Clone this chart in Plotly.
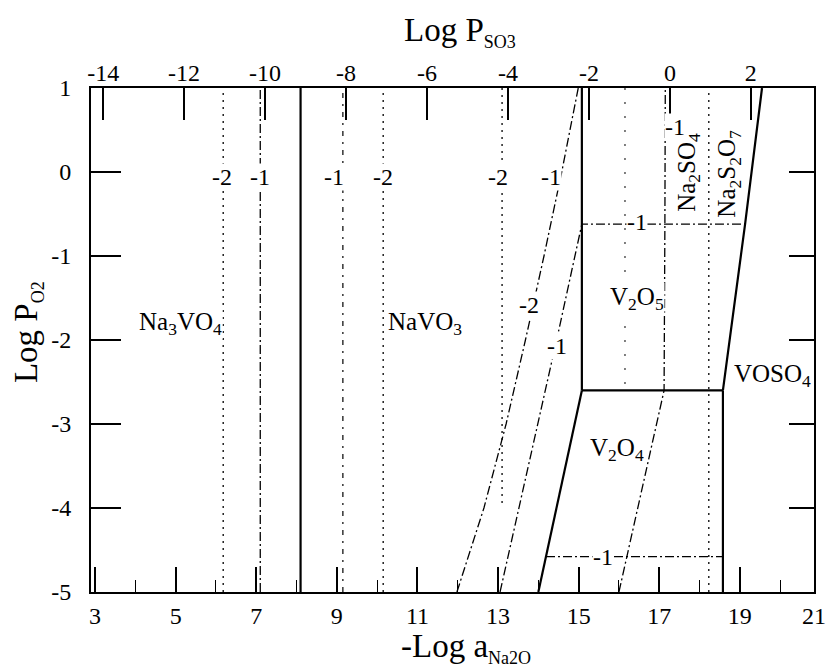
import plotly.graph_objects as go

# ---------------- data (x = -Log a_Na2O, y = Log P_O2) ----------------
bottom_tick_vals = [3, 5, 7, 9, 11, 13, 15, 17, 19, 20.84]
bottom_tick_text = ["3", "5", "7", "9", "11", "13", "15", "17", "19", "21"]
bottom_minor_vals = [4, 6, 8, 10, 12, 14, 16, 18, 20]
left_tick_vals = [-5, -4, -3, -2, -1, 0, 1]
left_tick_text = ["-5", "-4", "-3", "-2", "-1", "0", "1"]
top_tick_vals = [-14, -12, -10, -8, -6, -4, -2, 0, 2]
top_tick_text = ["-14", "-12", "-10", "-8", "-6", "-4", "-2", "0", "2"]

# solid phase boundaries
na3vo4_navo3_x = [8.1, 8.1];        na3vo4_navo3_y = [-5, 1]
navo3_v2o4_x = [14.0, 15.08];       navo3_v2o4_y = [-5, -2.6]
navo3_v2o5_x = [15.08, 15.08];      navo3_v2o5_y = [-2.6, 1]
v2o5_v2o4_x = [15.08, 18.58];       v2o5_v2o4_y = [-2.6, -2.6]
v2o4_voso4_x = [18.58, 18.58];      v2o4_voso4_y = [-2.6, -5]
v2o5_voso4_x = [18.58, 19.13, 19.55]; v2o5_voso4_y = [-2.6, -0.62, 1]

# activity contours (dash-dot / dotted)
na3vo4_m2_x = [6.18, 6.18];   na3vo4_m2_y = [-5, 1]
na3vo4_m1_x = [7.1, 7.1];     na3vo4_m1_y = [-5, 1]
navo3_m1_x = [9.15, 9.15];    navo3_m1_y = [-5, 1]
navo3_m2_x = [10.15, 10.15];  navo3_m2_y = [-5, 1]
v_m2_vert_x = [13.1, 13.1];   v_m2_vert_y = [1, -4.0]
alpha_x = [11.98, 12.65, 13.2, 13.68, 14.14, 14.58, 14.99]
alpha_y = [-5, -4, -3, -2, -1, 0, 1]
beta_x = [13.05, 13.95, 14.5, 15.08, 19.13]
beta_y = [-5, -3.1, -1.9, -0.62, -0.62]
gamma_x = [16.0, 17.12, 17.14, 17.15]
gamma_y = [-5, -2.6, -0.62, 1]
low_h_x = [14.19, 18.58];     low_h_y = [-4.58, -4.58]
so4_s2o7_x = [18.23, 18.23];  so4_s2o7_y = [-5, 1]
faint_x = [16.15, 16.15];     faint_y = [1, -2.6]

# labels
contour_labels = ["-2", "-1", "-1", "-2", "-2", "-1", "-2", "-1", "-1", "-1", "-1"]
contour_label_x = [6.15, 7.09, 8.93, 10.15, 13.0, 14.31, 13.77, 14.46, 16.45, 15.6, 17.4]
contour_label_y = [-0.06, -0.06, -0.06, -0.06, -0.06, -0.06, -1.58, -2.07, -0.6, -4.58, 0.53]

phase_labels = ["Na<sub>3</sub>VO<sub>4</sub>", "NaVO<sub>3</sub>", "V<sub>2</sub>O<sub>5</sub>",
                "V<sub>2</sub>O<sub>4</sub>", "VOSO<sub>4</sub>"]
phase_label_x = [5.11, 11.19, 16.45, 15.95, 19.8]
phase_label_y = [-1.8, -1.8, -1.5, -3.3, -2.42]

rot_labels = ["Na<sub>2</sub>SO<sub>4</sub>", "Na<sub>2</sub>S<sub>2</sub>O<sub>7</sub>"]
rot_label_x = [17.71, 18.73]
rot_label_y = [0.0, -0.02]

FONT = "Liberation Serif"
SOLID_W = 2.2
DASHDOT = "9px,3px,2px,3px"
DOT = "2px,5px"
SPARSE = "5px,6px,2px,6px"

fig = go.Figure()


def add_line(x, y, dash="solid", width=SOLID_W):
    fig.add_trace(go.Scatter(x=x, y=y, mode="lines",
                             line=dict(color="black", width=width, dash=dash),
                             showlegend=False, hoverinfo="skip"))


# contours first (under labels)
add_line(na3vo4_m2_x, na3vo4_m2_y, DOT, 1.3)
add_line(na3vo4_m1_x, na3vo4_m1_y, DASHDOT, 1.3)
add_line(navo3_m1_x, navo3_m1_y, SPARSE, 1.2)
add_line(navo3_m2_x, navo3_m2_y, DOT, 1.3)
add_line(v_m2_vert_x, v_m2_vert_y, DOT, 1.3)
add_line(alpha_x, alpha_y, DASHDOT, 1.3)
add_line(beta_x, beta_y, DASHDOT, 1.3)
add_line(gamma_x, gamma_y, DASHDOT, 1.3)
add_line(low_h_x, low_h_y, DASHDOT, 1.3)
add_line(so4_s2o7_x, so4_s2o7_y, DOT, 1.3)
add_line(faint_x, faint_y, "2px,12px", 1.0)

# solid boundaries
add_line(na3vo4_navo3_x, na3vo4_navo3_y)
add_line(navo3_v2o4_x, navo3_v2o4_y)
add_line(navo3_v2o5_x, navo3_v2o5_y)
add_line(v2o5_v2o4_x, v2o5_v2o4_y)
add_line(v2o4_voso4_x, v2o4_voso4_y)
add_line(v2o5_voso4_x, v2o5_voso4_y)

# invisible trace on secondary axes (top / right)
fig.add_trace(go.Scatter(x=[top_tick_vals[0]], y=[0], xaxis="x2", yaxis="y2",
                         mode="markers", marker=dict(opacity=0),
                         showlegend=False, hoverinfo="skip"))

annotations = []
for t, x, y in zip(phase_labels, phase_label_x, phase_label_y):
    annotations.append(dict(x=x, y=y, xref="x", yref="y", text=t, showarrow=False,
                            font=dict(family=FONT, size=25, color="black"),
                            bgcolor="white", borderpad=0))
for t, x, y in zip(contour_labels, contour_label_x, contour_label_y):
    annotations.append(dict(x=x, y=y, xref="x", yref="y", text=t, showarrow=False,
                            font=dict(family=FONT, size=24, color="black"),
                            bgcolor="white", borderpad=0))
for t, x, y in zip(rot_labels, rot_label_x, rot_label_y):
    annotations.append(dict(x=x, y=y, xref="x", yref="y", text=t, showarrow=False,
                            textangle=-90,
                            font=dict(family=FONT, size=25, color="black")))

SUB = '<sub><span style="font-size:18px">{}</span></sub>'
# axis titles
annotations.append(dict(x=0.51, y=1.112, xref="paper", yref="paper",
                        xanchor="center", yanchor="middle",
                        text="Log P" + SUB.format("SO3"), showarrow=False,
                        font=dict(family=FONT, size=33, color="black")))
annotations.append(dict(x=0.519, y=-0.112, xref="paper", yref="paper",
                        xanchor="center", yanchor="middle",
                        text="-Log a" + SUB.format("Na2O"), showarrow=False,
                        font=dict(family=FONT, size=33, color="black")))
annotations.append(dict(x=-0.087, y=0.516, xref="paper", yref="paper",
                        xanchor="center", yanchor="middle",
                        text="Log P" + SUB.format("O2"), showarrow=False, textangle=-90,
                        font=dict(family=FONT, size=33, color="black")))

tickfont = dict(family=FONT, size=24, color="black")

fig.update_layout(
    width=828, height=671,
    margin=dict(l=91, r=14, t=88, b=79, autoexpand=False),
    paper_bgcolor="white", plot_bgcolor="white",
    showlegend=False,
    annotations=annotations,
    xaxis=dict(range=[2.9, 20.84], tickmode="array", tickvals=bottom_tick_vals,
               ticktext=bottom_tick_text, ticks="inside", ticklen=25, tickwidth=1.6,
               tickcolor="black", showline=True, mirror=True, linewidth=2,
               linecolor="black", showgrid=False, zeroline=False, tickfont=tickfont,
               ticklabelstandoff=1, automargin=False,
               minor=dict(tickmode="array", tickvals=bottom_minor_vals, ticks="inside",
                          ticklen=12, tickwidth=1.4, tickcolor="black", showgrid=False)),
    yaxis=dict(range=[-5, 1], tickmode="array", tickvals=left_tick_vals,
               ticktext=left_tick_text,
               ticks="inside", ticklen=30, tickwidth=2, tickcolor="black",
               showline=True, mirror=True, linewidth=2, linecolor="black",
               showgrid=False, zeroline=False, tickfont=tickfont, ticklabelstandoff=13,
               automargin=False),
    xaxis2=dict(overlaying="x", side="top", range=[-14.3, 3.56], tickmode="array",
                tickvals=top_tick_vals, ticktext=top_tick_text, ticks="inside",
                ticklen=32, tickwidth=1.6,
                tickcolor="black", showline=False, showgrid=False, zeroline=False,
                tickfont=tickfont, ticklabelstandoff=1, automargin=False),
    yaxis2=dict(overlaying="y", side="right", range=[-5, 1], tickmode="array",
                tickvals=left_tick_vals, ticks="inside", ticklen=25, tickwidth=1.6,
                tickcolor="black", showticklabels=False, showline=False,
                showgrid=False, zeroline=False, automargin=False),
)

fig.write_html("out.html")
